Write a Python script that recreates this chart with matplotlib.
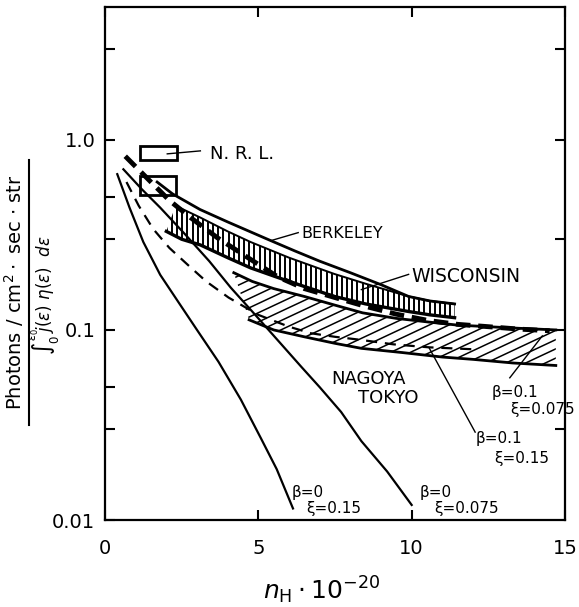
import matplotlib
matplotlib.use("Agg")
import matplotlib.pyplot as plt
import numpy as np
from matplotlib.lines import Line2D
from matplotlib.patches import Rectangle

# ---- curves (x = n_H * 1e-20) ----
# theory: beta = 0
b0_15_x = [0.4, 0.8, 1.25, 1.8, 2.46, 3.0, 3.7, 4.43, 5.08, 5.6, 6.13]
b0_15_y = [0.66, 0.44, 0.29, 0.195, 0.135, 0.1, 0.068, 0.043, 0.027, 0.0185, 0.0115]
b0_075_x = [0.6, 1.2, 1.8, 2.6, 3.4, 4.1, 4.9, 5.64, 6.4, 7.0, 7.7, 8.36, 9.2, 10.0]
b0_075_y = [0.7, 0.55, 0.44, 0.32, 0.23, 0.167, 0.12, 0.088, 0.064, 0.05, 0.037, 0.026, 0.018, 0.012]
# theory: beta = 0.1
b1_15_x = [0.7, 1.1, 1.57, 2.1, 2.7, 3.3, 4.03, 5.0, 6.0, 6.72, 7.5, 8.26, 9.4, 10.56, 12.1]
b1_15_y = [0.6, 0.45, 0.34, 0.27, 0.22, 0.18, 0.148, 0.12, 0.104, 0.096, 0.092, 0.089, 0.084, 0.081, 0.079]
b1_075_x = [0.66, 1.41, 2.1, 2.79, 3.67, 4.66, 5.64, 6.5, 7.5, 8.5, 9.5, 10.56, 11.5, 12.5, 13.5, 14.5]
b1_075_y = [0.82, 0.62, 0.48, 0.39, 0.305, 0.24, 0.19, 0.165, 0.148, 0.133, 0.121, 0.112, 0.107, 0.104, 0.101, 0.099]

# observations
berk_x = [1.7, 2.2, 3.1, 4.0, 5.3, 6.2, 7.0, 8.0, 9.0, 9.9, 10.6, 11.4]
berk_y = [0.6, 0.52, 0.43, 0.37, 0.30, 0.26, 0.23, 0.20, 0.173, 0.15, 0.142, 0.137]
wis_top_x = [2.3, 3.11, 4.0, 4.75, 6.0, 7.48, 8.5, 9.9, 10.6, 11.4]
wis_top_y = [0.45, 0.39, 0.33, 0.29, 0.24, 0.197, 0.175, 0.15, 0.142, 0.137]
wis_bot_x = [2.0, 2.5, 3.11, 4.0, 4.75, 6.0, 7.48, 8.5, 9.9, 10.6, 11.4]
wis_bot_y = [0.33, 0.3, 0.28, 0.24, 0.212, 0.18, 0.15, 0.137, 0.125, 0.12, 0.116]
nag_top_x = [4.2, 4.8, 5.5, 6.5, 7.5, 8.4, 9.5, 10.56, 11.5, 12.5, 13.5, 14.7]
nag_top_y = [0.2, 0.18, 0.165, 0.15, 0.135, 0.123, 0.115, 0.11, 0.106, 0.104, 0.102, 0.1]
nag_bot_x = [4.7, 5.5, 6.5, 7.5, 8.36, 9.7, 11.0, 12.0, 13.3, 14.7]
nag_bot_y = [0.113, 0.1, 0.092, 0.085, 0.08, 0.076, 0.072, 0.07, 0.067, 0.065]
# N.R.L. boxes: (x0, x1, y0, y1)
nrl_boxes = [(1.15, 2.36, 0.785, 0.93), (1.15, 2.33, 0.513, 0.646)]

K = "black"
plt.rcParams["font.family"] = "DejaVu Sans"

fig = plt.figure(figsize=(5.79, 6.07), dpi=100)
ax = fig.add_axes([105 / 579, 1 - 520 / 607, 460 / 579, 513 / 607])
ax.set_yscale("log")
ax.set_xlim(0, 15)
ax.set_ylim(0.01, 5)

# ---- hatched bands ----
wis_poly = ax.fill(wis_top_x + wis_bot_x[::-1], wis_top_y + wis_bot_y[::-1],
                   facecolor="none", edgecolor="none")[0]
for c in np.arange(0, 1, 0.0112):
    ax.plot([c, c], [0, 1], transform=ax.transAxes, color=K, lw=1.4, clip_path=wis_poly)

nag_poly = ax.fill(nag_top_x + nag_bot_x[::-1], nag_top_y + nag_bot_y[::-1],
                   facecolor="none", edgecolor="none")[0]
for c in np.arange(-0.6, 1, 0.018):
    ax.plot([0, 1], [c, c + 0.42], transform=ax.transAxes, color=K, lw=1.1, clip_path=nag_poly)

ax.plot(wis_top_x, wis_top_y, color=K, lw=1.4)
ax.plot(wis_bot_x, wis_bot_y, color=K, lw=2.4)
ax.plot(nag_top_x, nag_top_y, color=K, lw=2.0)
ax.plot(nag_bot_x, nag_bot_y, color=K, lw=2.0)
ax.plot(berk_x, berk_y, color=K, lw=2.0)

# ---- theory curves ----
ax.plot(b0_15_x, b0_15_y, color=K, lw=1.6)
ax.plot(b0_075_x, b0_075_y, color=K, lw=1.6)
ax.plot(b1_15_x, b1_15_y, color=K, lw=1.6, dashes=(5, 3.5))
ax.plot(b1_075_x, b1_075_y, color=K, lw=3.5, dashes=(3, 1.6))

for x0, x1, y0, y1 in nrl_boxes:
    ax.add_patch(Rectangle((x0, y0), x1 - x0, y1 - y0, fill=False, ec=K, lw=2.0, zorder=4))

# ---- labels ----
lab = dict(fontsize=13, va="center", ha="left", color=K)
ax.plot([2.03, 3.11], [0.844, 0.875], color=K, lw=1.0)
ax.text(3.44, 0.844, "N. R. L.", **lab)
ax.plot([5.41, 6.3], [0.295, 0.325], color=K, lw=1.0)
ax.text(6.4, 0.32, "BERKELEY", fontsize=11.5, va="center", ha="left")
ax.plot([8.36, 9.9], [0.163, 0.196], color=K, lw=1.0)
ax.text(10.0, 0.19, "WISCONSIN", fontsize=13.5, va="center", ha="left")
ax.text(7.38, 0.055, "NAGOYA", **lab)
ax.text(8.26, 0.044, "TOKYO", **lab)

sm = dict(fontsize=11, va="center", ha="left", color=K)
ax.plot([13.2, 14.26], [0.056, 0.093], color=K, lw=1.0)
ax.text(12.6, 0.047, "β=0.1", **sm)
ax.text(13.2, 0.038, "ξ=0.075", **sm)
ax.plot([12.07, 10.56], [0.029, 0.081], color=K, lw=1.0)
ax.text(12.1, 0.027, "β=0.1", **sm)
ax.text(12.7, 0.021, "ξ=0.15", **sm)
ax.text(6.07, 0.014, "β=0", **sm)
ax.text(6.56, 0.0115, "ξ=0.15", **sm)
ax.text(10.26, 0.014, "β=0", **sm)
ax.text(10.75, 0.0115, "ξ=0.075", **sm)

# ---- axes ----
for s in ax.spines.values():
    s.set_linewidth(1.6)
ax.set_xticks([0, 5, 10, 15])
ax.set_xticklabels(["0", "5", "10", "15"])
ax.set_yticks([0.01, 0.1, 1.0])
ax.set_yticklabels(["0.01", "0.1", "1.0"])
ax.set_yticks([0.03, 0.05, 0.3, 0.5, 3], minor=True)
ax.yaxis.set_minor_formatter(plt.NullFormatter())
ax.tick_params(which="both", direction="in", length=7, width=1.5, labelsize=14, top=True)
ax.tick_params(axis="x", pad=14)
ax.tick_params(axis="y", pad=7)

ax2 = ax.twinx()
ax2.set_yscale("log")
ax2.set_ylim(0.01, 5)
ax2.set_yticks([0.03, 0.1, 0.3, 1.0, 3])
ax2.set_yticks([], minor=True)
ax2.set_yticklabels([])
ax2.tick_params(direction="in", length=7, width=1.5)
for s in ax2.spines.values():
    s.set_visible(False)

# y label drawn as a fraction
fig.text(14 / 579, 1 - 292 / 607, r"Photons / cm$^{2}\cdot$ sec $\cdot$ str",
         rotation=90, ha="center", va="center", fontsize=14)
fig.text(44 / 579, 1 - 295 / 607,
         r"$\int_0^{\epsilon_0}\! j(\epsilon)\ \eta(\epsilon)\ \ d\epsilon$",
         rotation=90, ha="center", va="center", fontsize=12)
fig.add_artist(Line2D([29 / 579, 29 / 579], [1 - 160 / 607, 1 - 425 / 607],
                      transform=fig.transFigure, color=K, lw=1.5))
fig.text(322 / 579, 1 - 590 / 607, r"$n_{\mathrm{H}}\cdot 10^{-20}$",
         ha="center", va="center", fontsize=18)

fig.savefig("out.png", dpi=100)
